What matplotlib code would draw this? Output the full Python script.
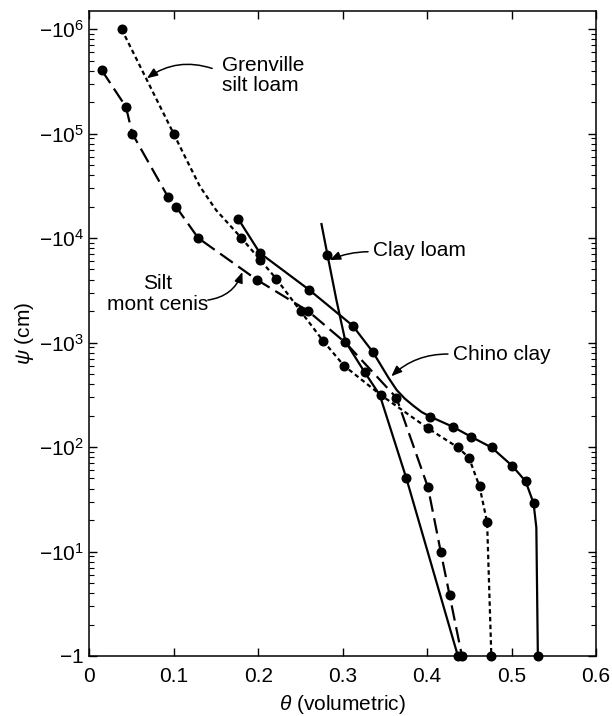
import numpy as np
import matplotlib
matplotlib.use('Agg')
import matplotlib.pyplot as plt
from matplotlib.ticker import FixedLocator, FuncFormatter, NullFormatter

plt.rcParams['font.family'] = ['Liberation Sans', 'DejaVu Sans']
plt.rcParams['mathtext.fontset'] = 'custom'
plt.rcParams['mathtext.rm'] = 'Liberation Sans'
plt.rcParams['mathtext.it'] = 'Liberation Sans:italic'
plt.rcParams['font.size'] = 15

# water content (volumetric) vs matric potential (cm); marks = indices of measured points
grenville_theta = [0.038, 0.0996, 0.115, 0.131, 0.150, 0.180, 0.202, 0.221, 0.250, 0.277,
                   0.3015, 0.345, 0.401, 0.4365, 0.4495, 0.462, 0.471, 0.476]
grenville_psi = [-1.0e6, -1.0e5, -5.6e4, -3.1e4, -1.85e4, -1.0e4, -6.2e3, -4.1e3, -2.0e3, -1.03e3,
                 -600, -315, -151, -99, -79, -42, -19, -1]
grenville_marks = [0, 1, 5, 6, 7, 8, 9, 10, 11, 12, 13, 14, 15, 16, 17]

silt_theta = [0.0144, 0.0432, 0.0507, 0.0933, 0.1024, 0.1288, 0.198, 0.259, 0.3036,
              0.3636, 0.401, 0.416, 0.4266, 0.4412]
silt_psi = [-4.05e5, -1.8e5, -1.0e5, -2.45e4, -2.0e4, -1.0e4, -4.0e3, -2.0e3, -990,
            -296, -41, -10, -3.8, -1]
silt_marks = [0, 1, 2, 3, 4, 5, 6, 7, 9, 10, 11, 12, 13]

chino_theta = [0.1761, 0.2018, 0.2601, 0.3118, 0.3359, 0.3544, 0.3639, 0.3734, 0.384, 0.3935,
               0.4038, 0.4305, 0.4515, 0.4763, 0.5008, 0.5166, 0.526, 0.5293, 0.5311]
chino_psi = [-1.53e4, -7.2e3, -3.2e3, -1.45e3, -806, -457, -351, -291, -247, -216,
             -195, -156, -126, -99, -66, -47, -29, -17, -1]
chino_marks = [0, 1, 2, 3, 4, 10, 11, 12, 13, 14, 15, 16, 18]

clay_loam_theta = [0.2748, 0.2819, 0.2925, 0.3032, 0.326, 0.3438, 0.3754, 0.4364]
clay_loam_psi = [-1.36e4, -6.9e3, -2.55e3, -1.02e3, -519, -315, -50, -1]
clay_loam_marks = [1, 3, 4, 6, 7]

theta_ticks = [0, 0.1, 0.2, 0.3, 0.4, 0.5, 0.6]
theta_labels = ['0', '0.1', '0.2', '0.3', '0.4', '0.5', '0.6']
psi_decades = [0, 1, 2, 3, 4, 5, 6]


def psi_label(v, pos):
    e = int(round(np.log10(v)))
    if e == 0:
        return r'$-1$'
    return r'$-10^{%d}$' % e


fig = plt.figure(figsize=(6.12, 7.16), dpi=100)
ax = fig.add_axes([0.1462, 0.0838, 0.8277, 0.9013])

common = dict(color='black', lw=1.6, marker='o', ms=6.2, clip_on=False)
ax.plot(grenville_theta, -np.array(grenville_psi), linestyle=(0, (2, 1.5)),
        markevery=grenville_marks, **common)
ax.plot(silt_theta, -np.array(silt_psi), linestyle=(0, (7, 3)),
        markevery=silt_marks, **common)
ax.plot(chino_theta, -np.array(chino_psi), linestyle='-',
        markevery=chino_marks, **common)
ax.plot(clay_loam_theta, -np.array(clay_loam_psi), linestyle='-',
        markevery=clay_loam_marks, **common)

ax.set_yscale('log')
ax.set_xlim(0, 0.6)
ax.set_ylim(1, 1.5e6)
ax.set_xticks(theta_ticks)
ax.set_xticklabels(theta_labels)
major = [10.0 ** e for e in psi_decades]
minor = [m * 10.0 ** e for e in psi_decades[:-1] for m in range(2, 10)]
ax.yaxis.set_major_locator(FixedLocator(major))
ax.yaxis.set_minor_locator(FixedLocator(minor))
ax.yaxis.set_major_formatter(FuncFormatter(psi_label))
ax.yaxis.set_minor_formatter(NullFormatter())

ax.tick_params(which='both', direction='in', top=True, right=True)
ax.tick_params(which='major', length=6, width=1.0)
ax.tick_params(which='minor', length=3.5, width=0.8)
ax.tick_params(axis='x', pad=8)
ax.tick_params(axis='y', pad=4)
for s in ax.spines.values():
    s.set_linewidth(1.1)

ax.set_xlabel(r'$\theta$ (volumetric)', labelpad=5)
ax.set_ylabel(r'$\psi$ (cm)', labelpad=2)

# labels with arrows
arrow = dict(arrowstyle='-|>,head_length=0.45,head_width=0.18', color='black',
             lw=1.1, mutation_scale=14, shrinkA=0, shrinkB=0)
ax.text(0.157, 3.6e5, 'Grenville\nsilt loam', ha='left', va='center', linespacing=1.1)
ax.annotate('', xy=(0.068, 3.38e5), xytext=(0.1453, 4.2e5),
            arrowprops=dict(connectionstyle='arc3,rad=0.25', **arrow))

ax.text(0.0805, 2.9e3, 'Silt\nmont cenis', ha='center', va='center', linespacing=1.1)
ax.annotate('', xy=(0.1811, 4.73e3), xytext=(0.1402, 2.55e3),
            arrowprops=dict(connectionstyle='arc3,rad=0.3', **arrow))

ax.text(0.3359, 7.6e3, 'Clay loam', ha='left', va='center')
ax.annotate('', xy=(0.2846, 6.16e3), xytext=(0.33, 7.4e3),
            arrowprops=dict(connectionstyle='arc3,rad=0.1', **arrow))

ax.text(0.4302, 7.6e2, 'Chino clay', ha='left', va='center')
ax.annotate('', xy=(0.3575, 4.75e2), xytext=(0.4246, 7.76e2),
            arrowprops=dict(connectionstyle='arc3,rad=0.2', **arrow))

fig.savefig('out.png', dpi=100)
